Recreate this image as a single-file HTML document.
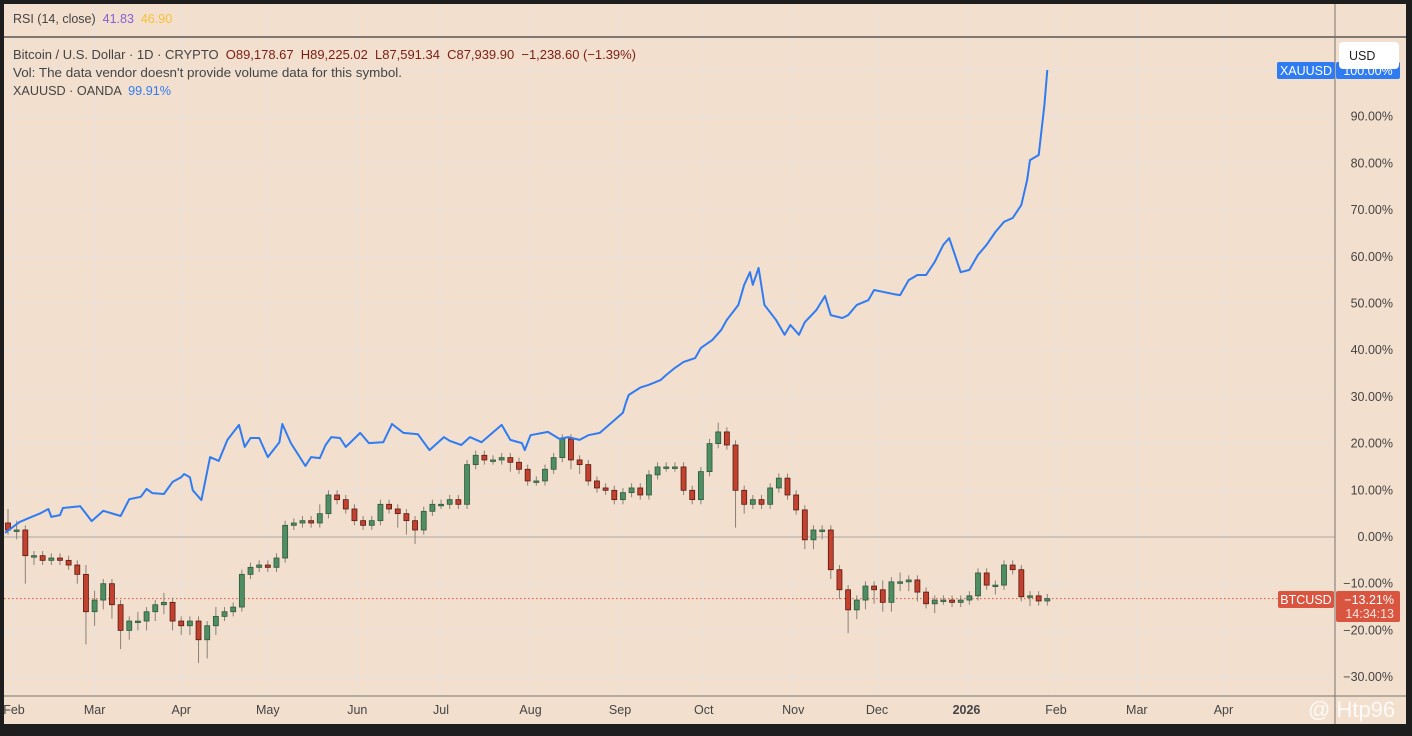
<!DOCTYPE html>
<html><head><meta charset="utf-8">
<style>
html,body{margin:0;padding:0;background:#1e1e1e;width:1412px;height:736px;overflow:hidden;font-family:"Liberation Sans",sans-serif;}
#wrap{position:absolute;left:4px;top:4px;width:1402px;height:720px;background:#f2dfce;}
svg{position:absolute;left:0;top:0;}
text{white-space:pre;}
.t{font-size:12.5px;fill:#444;}
</style></head>
<body>
<div id="wrap"></div>
<svg id="c" width="1412" height="736"></svg>
<script>
const months=["Feb","Mar","Apr","May","Jun","Jul","Aug","Sep","Oct","Nov","Dec","2026","Feb","Mar","Apr"];
const monthDays=[2,30,60,90,121,150,181,212,241,272,301,332,363,391,421];
const yTicks=[90,80,70,60,50,40,30,20,10,0,-10,-20,-30];
const btcClose=[1.5,1.5,-4,-4,-5,-4.5,-5,-6,-8,-16,
-13.5,-10,-14.5,-20,-18,-18,-16,-14.5,-14,-18,
-19,-18,-22,-19,-17,-16,-15,-8,-6.5,-6,
-6.5,-4.5,2.5,3,3.5,3,5,9,8,6,
3.5,2.5,3.5,7,6,5,3.5,1.5,5.5,7,
7,8,7,15.5,17.5,16.5,16.5,17,16,14.5,
12,12,14.5,17,21,16.5,15.5,12,10.5,10,
8,9.5,10.5,9,13.3,15,15,15,10,8,
14,20,22.5,19.7,10,7,8,7,10.5,12.6,
9,5.8,-0.6,1.5,1.5,-7,-11.3,-15.6,-13.5,-10.5,
-11.3,-14,-9.6,-9.6,-9.2,-11.8,-14.3,-13.5,-13.5,-14,
-13.5,-12.6,-7.7,-10.3,-10.3,-6,-7,-12.8,-12.6,-13.7,-13.2];
const btcWickUp=[3,2,1,1,1,1,1,1,1,2,
2,1,1,1,1,2,1,1,2,1,
1,1,1,1,2,1,1,1,1,1,
1,1,1,1,1,1,2,1,1,1,
1,1,1,1,1,1,1,1,1,1,
1,1,1,1,1,1,1,1,1,1,
1,1,1,1,1,1,1,1,1,1,
1,1,1,1,1,1,1,1,1,1,
1,1,2,1,1,1,1,1,1,1,
1,1,1,1,1,1,1,1,1,1,
1,2,1,2,1,1,1,1,1,1,
1,1,1,1,1,1,1,1,1,1,1];
const btcWickDn=[1,2,6,2,1,1,1,1,2,7,
3,2,3,4,2,2,2,2,2,2,
2,2,5,4,2,1,1,1,1,1,
1,1,1,1,1,1,1,1,1,1,
1,1,1,1,1,3,3,3,1,1,
1,1,1,1,1,1,1,1,2,1,
1,1,1,1,1,2,2,1,1,1,
1,1,1,1,1,1,1,1,1,1,
1,1,1,1,8,2,1,1,1,1,
1,1,2,2,2,2,2,5,2,2,
3,2,2,2,2,2,1,2,1,1,
1,1,1,1,2,1,1,1,2,1,1];
const goldDays=[-1,4,7,11,14,15,18,19,25,29,33,39,42,46,48,50,54,57,60,61,63,64,67,70,73,76,80,82,84,87,90,94,95,98,103,105,108,110,112,115,117,118,122,125,130,133,137,142,144,146,151,153,157,160,164,171,174,178,179,181,187,191,194,198,201,205,210,213,214,215,219,222,226,228,231,234,238,240,244,247,249,253,255,257,258,260,262,266,269,271,274,276,280,283,285,289,291,294,298,300,303,307,309,312,315,318,321,324,326,328,330,333,336,339,342,345,348,351,353,354,357,359,360];
const goldPct=[0.9,3.2,4,5,6,4.3,4.7,6.2,6.6,3.4,5.6,4.5,8.1,8.6,10.3,9.4,9.2,11.8,12.8,13.5,12.8,10,7.9,17.1,16.3,20.8,24,19.3,21.2,21.2,17.1,20.3,24.2,20.1,15.2,17.1,16.9,19.7,21.4,21.2,19.3,19.9,22.3,20.1,20.3,24.2,22.3,22,20.3,18.6,21.4,20.6,19.7,21.4,20.3,24,20.8,20.1,18.6,21.8,22.5,21,21.4,20.8,21.8,22.3,25,26.6,28.7,30.4,32,32.6,33.6,34.7,36.2,37.5,38.3,40.5,42.2,44.3,46.5,49.7,54,56.7,54,57.6,49.7,46.5,43.3,45.4,43.3,46,48.6,51.6,47.5,46.9,47.5,49.7,50.7,52.9,52.5,52,51.8,55,56.1,56.1,58.9,62.6,64,60.4,56.7,57.2,60.4,62.6,65.3,67.5,68.3,71.1,76.4,80.7,81.8,92.5,100];

const NS="http://www.w3.org/2000/svg";
const svg=document.getElementById('c');
const X=d=>8+d*2.887;
const Y=p=>537-p*4.67;
function el(tag,attrs,parent){const e=document.createElementNS(NS,tag);for(const k in attrs)e.setAttribute(k,attrs[k]);(parent||svg).appendChild(e);return e;}

const grid=el('g',{});


monthDays.forEach(d=>{const x=X(d);if(x<1335)el('line',{x1:x,x2:x,y1:4,y2:696,stroke:'#e9e2dc','stroke-width':1.2},grid);});
[100].concat(yTicks).forEach(p=>{el('line',{x1:4,x2:1335,y1:Y(p),y2:Y(p),stroke:p===0?'#bdb3aa':'#e9e2dc','stroke-width':1.2},grid);});

el('line',{x1:4,x2:1406,y1:37,y2:37,stroke:'#3a3a3a','stroke-width':1.3});
el('line',{x1:1335,x2:1335,y1:4,y2:724,stroke:'#7a7570','stroke-width':1});
el('line',{x1:4,x2:1406,y1:696,y2:696,stroke:'#7a7570','stroke-width':1});

yTicks.forEach(p=>{const t=el('text',{x:1393,y:Y(p)+4,'text-anchor':'end',class:'t'});t.textContent=p.toFixed(2).replace('-','−')+'%';

});
months.forEach((m,i)=>{const x=X(monthDays[i]);if(x>1300)return;const t=el('text',{x:Math.max(x,14),y:714,'text-anchor':'middle',class:'t','font-weight':m==='2026'?'bold':'normal'});t.textContent=m;

});

el('line',{x1:4,x2:1335,y1:Y(btcClose[btcClose.length-1]),y2:Y(btcClose[btcClose.length-1]),stroke:'#d9553f','stroke-width':1,'stroke-dasharray':'1.5,2.5'});

const cg=el('g',{});


btcClose.forEach((c,i)=>{
  const o=i===0?3:btcClose[i-1];
  const x=X(i*3);
  const hi=Math.max(o,c)+btcWickUp[i], lo=Math.min(o,c)-btcWickDn[i];
  const up=c>=o;
  el('line',{x1:x,x2:x,y1:Y(hi),y2:Y(lo),stroke:'#8a8178','stroke-width':1},cg);
  const top=Y(Math.max(o,c)),h=Math.max(1.5,Math.abs(Y(o)-Y(c)));
  const r=el('rect',{x:x-2.5,y:top,width:5,height:h,fill:up?'#4f8d62':'#c2412f',stroke:up?'#2f5a3c':'#5a1a12','stroke-width':0.8},cg);
  
  
});

const gp=goldDays.map((d,i)=>X(d).toFixed(1)+','+Y(goldPct[i]).toFixed(1)).join(' ');
const gl=el('polyline',{points:gp,fill:'none',stroke:'#2f7cf2','stroke-width':2,'stroke-linejoin':'round'});



function tag(x,y,w,h,fill,txt,name){const g=el('g',{});
el('rect',{x:x,y:y,width:w,height:h,rx:2,fill:fill},g);const t=el('text',{x:x+w/2,y:y+h/2+4.5,'text-anchor':'middle','font-size':12.5,fill:'#fff'},g);t.textContent=txt;return g;}
tag(1277,62,58,17,'#2f7cf2','XAUUSD','xauusd-tag');
tag(1336,62,64,17,'#2f7cf2','100.00%','xauusd-price-tag');
tag(1278,591,56,17,'#d9553f','BTCUSD','btcusd-tag');
const bp=el('g',{});
el('rect',{x:1336,y:591,width:64,height:31,rx:2,fill:'#d9553f'},bp);
let t1=el('text',{x:1394,y:604,'text-anchor':'end','font-size':12.5,fill:'#fff'},bp);t1.textContent='−13.21%';
let t2=el('text',{x:1394,y:618,'text-anchor':'end','font-size':12.5,fill:'#fbe2dc'},bp);t2.textContent='14:34:13';
const ub=el('g',{});
el('rect',{x:1339,y:42,width:60,height:27,rx:4,fill:'#fff'},ub);
let ut=el('text',{x:1349,y:60,'font-size':12.5,fill:'#222'},ub);ut.textContent='USD';

const r1=el('text',{x:13,y:23,'font-size':12.5,fill:'#444'});
r1.innerHTML='RSI (14, close)  <tspan fill="#8b5bd6">41.83</tspan>  <tspan fill="#f6c237">46.90</tspan>';
const l1=el('text',{x:13,y:59,'font-size':13.2,fill:'#444',textLength:623,lengthAdjust:'spacingAndGlyphs'});
l1.innerHTML='Bitcoin / U.S. Dollar · 1D · CRYPTO  <tspan fill="#7a1e14">O89,178.67  H89,225.02  L87,591.34  C87,939.90  −1,238.60 (−1.39%)</tspan>';
const l2=el('text',{x:13,y:77,'font-size':13.2,fill:'#444',textLength:389,lengthAdjust:'spacingAndGlyphs'});l2.textContent="Vol: The data vendor doesn't provide volume data for this symbol.";

const l3=el('text',{x:13,y:95,'font-size':13.2,fill:'#444',textLength:158,lengthAdjust:'spacingAndGlyphs'});
l3.innerHTML='XAUUSD · OANDA  <tspan fill="#2f7cf2">99.91%</tspan>';
const wm=el('text',{x:1308,y:717,'font-size':22,fill:'#ffffff',opacity:0.85});wm.textContent='@ Htp96';

</script>
</body></html>
